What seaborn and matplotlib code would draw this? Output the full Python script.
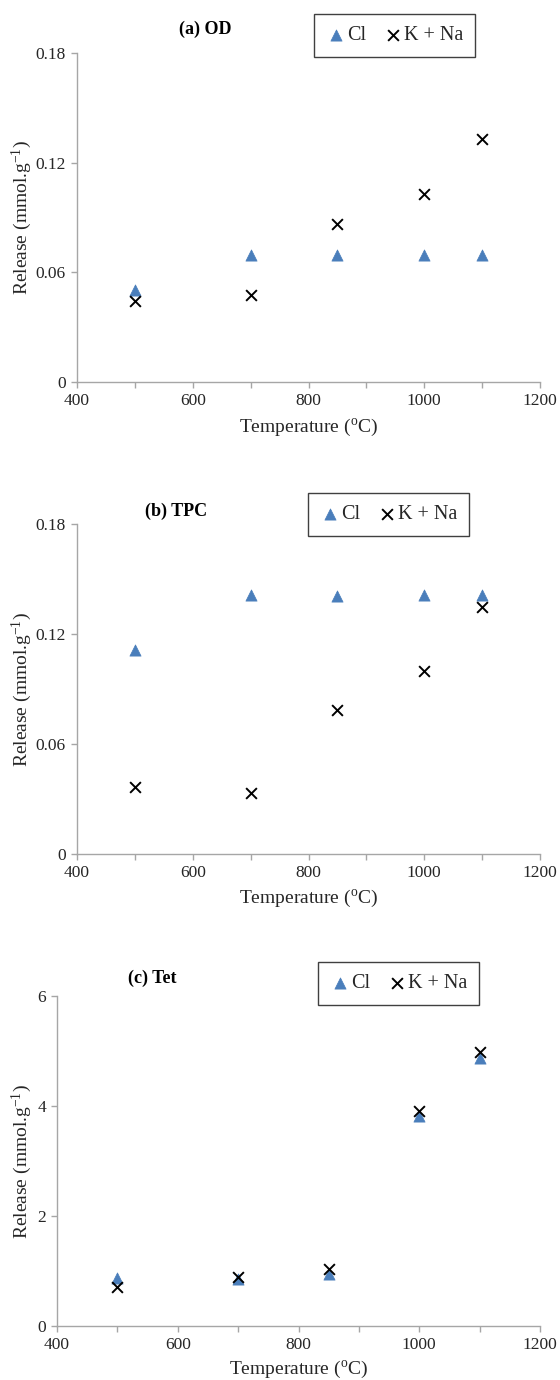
import matplotlib
matplotlib.use("Agg")
import matplotlib.pyplot as plt
import seaborn as sns
import numpy as np

# ---- data ----
temperature = [500, 700, 850, 1000, 1100]
od_cl = [0.0505, 0.0697, 0.0697, 0.0697, 0.0697]
od_kna = [0.0441, 0.0478, 0.0866, 0.1030, 0.1330]
tpc_cl = [0.1114, 0.1414, 0.1405, 0.1414, 0.1414]
tpc_kna = [0.0368, 0.0331, 0.0783, 0.0999, 0.1347]
tet_cl = [0.867, 0.85, 0.94, 3.82, 4.87]
tet_kna = [0.715, 0.897, 1.03, 3.915, 4.99]
panel_titles = ["(a) OD", "(b) TPC", "(c) Tet"]
series_labels = ["Cl", "K + Na"]
x_ticks = [400, 600, 800, 1000, 1200]
y_ticks_ab = [0, 0.06, 0.12, 0.18]
y_ticklabels_ab = ["0", "0.06", "0.12", "0.18"]
y_ticks_c = [0, 2, 4, 6]
y_ticklabels_c = ["0", "2", "4", "6"]

sns.set_theme(style="white")
plt.rcParams['font.family'] = ['Liberation Serif', 'DejaVu Serif']
plt.rcParams['mathtext.fontset'] = 'custom'
plt.rcParams['mathtext.rm'] = 'Liberation Serif'
plt.rcParams['mathtext.it'] = 'Liberation Serif:italic'

W, H = 560, 1380
fig = plt.figure(figsize=(W / 100, H / 100), dpi=100)

BLUE = "#4A7EBB"
AX_GRAY = "#A6A6A6"
TXT = "#262626"

def fx(px):
    return px / W

def fy(py):
    return 1 - py / H

# axes boxes in pixels: (left, right, top, bottom)
boxes = [(77, 540, 53, 382), (77, 540, 524, 854), (57, 540, 996, 1326)]
title_pos = [(205, 29), (176, 511), (152, 978)]
legend_pos = [(314, 14), (308, 493), (318, 962)]
data = [(od_cl, od_kna), (tpc_cl, tpc_kna), (tet_cl, tet_kna)]
xlabel_y = [427, 898, 1369]

for i, ((l, r, t, b), (cl, kna)) in enumerate(zip(boxes, data)):
    ax = fig.add_axes([fx(l), fy(b), fx(r) - fx(l), (b - t) / H])
    sns.scatterplot(x=temperature, y=cl, marker="^", color=BLUE, s=65,
                    edgecolor=BLUE, linewidth=0.5, ax=ax, label=series_labels[0],
                    zorder=3, clip_on=False)
    sns.scatterplot(x=temperature, y=kna, marker="x", color="black", s=60,
                    linewidth=1.4, ax=ax, label=series_labels[1], zorder=4,
                    clip_on=False)
    ax.set_xlim(400, 1200)
    ax.set_xticks(np.arange(400, 1201, 100))
    ax.set_xticklabels([str(v) if v in x_ticks else "" for v in range(400, 1201, 100)])
    if i < 2:
        ax.set_ylim(0, 0.18)
        ax.set_yticks(y_ticks_ab)
        ax.set_yticklabels(y_ticklabels_ab)
    else:
        ax.set_ylim(0, 6)
        ax.set_yticks(y_ticks_c)
        ax.set_yticklabels(y_ticklabels_c)
    for s in ["top", "right"]:
        ax.spines[s].set_visible(False)
    for s in ["left", "bottom"]:
        ax.spines[s].set_color(AX_GRAY)
        ax.spines[s].set_linewidth(1.0)
    ax.tick_params(axis="both", direction="out", length=4, width=1.0,
                   color=AX_GRAY, labelsize=12.5, labelcolor=TXT, pad=4,
                   bottom=True, left=True)
    ax.set_xlabel("Temperature ($^{\\mathregular{o}}$C)", fontsize=14, color=TXT)
    ax.xaxis.set_label_coords(fx((l + r) / 2), fy(xlabel_y[i]), transform=fig.transFigure)
    ax.xaxis.label.set_verticalalignment("center")
    ax.set_ylabel("Release (mmol.g$^{\\mathregular{-1}}$)", fontsize=14, color=TXT)
    ax.yaxis.set_label_coords(fx(22), (fy(b) + fy(t)) / 2, transform=fig.transFigure)
    ax.yaxis.label.set_verticalalignment("center")
    fig.text(fx(title_pos[i][0]), fy(title_pos[i][1]), panel_titles[i],
             fontsize=13, fontweight="bold", ha="center", va="center", color="black")
    leg = ax.legend(loc="upper left", ncol=2,
                    bbox_to_anchor=(fx(legend_pos[i][0]), fy(legend_pos[i][1])),
                    bbox_transform=fig.transFigure, frameon=True, fancybox=False,
                    edgecolor="#404040", framealpha=1, fontsize=14.5,
                    handletextpad=0.05, columnspacing=0.8, handlelength=1.0,
                    borderpad=0.6, borderaxespad=0)
    leg.get_frame().set_linewidth(1.0)
    for txt in leg.get_texts():
        txt.set_color(TXT)

fig.savefig("out.png", dpi=100)
